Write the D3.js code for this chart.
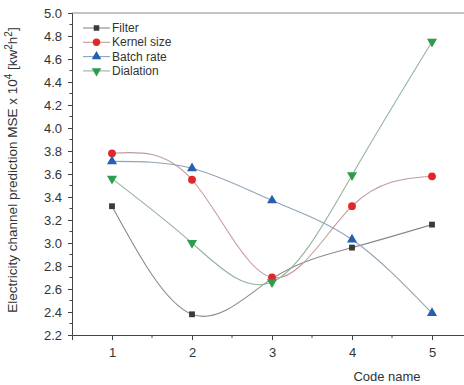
<!DOCTYPE html>
<html><head><meta charset="utf-8">
<script src="https://cdn.jsdelivr.net/npm/d3@7"></script>
<style>body{margin:0;background:#fff;}svg{display:block;}text{font-family:"Liberation Sans",Arial,sans-serif;fill:#333;}</style>
</head><body><svg id="c" width="464" height="385"></svg>
<script>
const codes = [1, 2, 3, 4, 5];
const filterVals = [3.32, 2.38, 2.69, 2.96, 3.16];
const kernelVals = [3.78, 3.55, 2.70, 3.32, 3.58];
const batchVals = [3.71, 3.65, 3.37, 3.03, 2.39];
const dialationVals = [3.56, 3.00, 2.66, 3.59, 4.75];
const seriesNames = ["Filter", "Kernel size", "Batch rate", "Dialation"];
const yTicks = [2.2, 2.4, 2.6, 2.8, 3.0, 3.2, 3.4, 3.6, 3.8, 4.0, 4.2, 4.4, 4.6, 4.8, 5.0];
const xTicks = [1, 2, 3, 4, 5];

const series = [
  {name: seriesNames[0], vals: filterVals, line: "#8a8a8a", fill: "#3a3a3a", sym: d3.symbolSquare},
  {name: seriesNames[1], vals: kernelVals, line: "#c49a9a", fill: "#e3262b", sym: d3.symbolCircle},
  {name: seriesNames[2], vals: batchVals, line: "#8fa3b8", fill: "#2361b0", sym: d3.symbolTriangle},
  {name: seriesNames[3], vals: dialationVals, line: "#93b39c", fill: "#2f9b4f", sym: "down"}
];

const svg = d3.select("#c");
const m = {l: 72, t: 13, r: 472, b: 335};
const x = d3.scaleLinear().domain([0.5, 5.5]).range([m.l, m.r]);
const y = d3.scaleLinear().domain([2.2, 5.0]).range([m.b, m.t]);

// top frame
svg.append("line").attr("x1", m.l).attr("x2", 464).attr("y1", m.t).attr("y2", m.t)
  .attr("stroke", "#888").attr("stroke-width", 1.2);

// y axis
const yMinor = d3.range(2.3, 5.0, 0.2).map(v => +v.toFixed(1));
const ya = svg.append("g").attr("transform", `translate(${m.l},0)`);
ya.call(d3.axisLeft(y).tickValues(yTicks).tickFormat(d3.format(".1f")).tickSize(4).tickPadding(6));
ya.selectAll(".tick line").attr("stroke", "#444");
ya.select(".domain").attr("stroke", "#444");
ya.selectAll("text").style("font-size", "13px").attr("fill", "#333");
ya.selectAll(".minor").data(yMinor).enter().append("line").attr("class", "minor")
  .attr("x1", -2.5).attr("x2", 0).attr("y1", d => y(d)).attr("y2", d => y(d)).attr("stroke", "#444");

// x axis
const xa = svg.append("g").attr("transform", `translate(0,${m.b})`);
xa.call(d3.axisBottom(x).tickValues(xTicks).tickFormat(d3.format("d")).tickSize(5).tickPadding(8));
xa.selectAll(".tick line").attr("stroke", "#444");
xa.select(".domain").attr("stroke", "#444");
xa.selectAll("text").style("font-size", "13px").attr("fill", "#333");
xa.selectAll(".minor").data([1.5, 2.5, 3.5, 4.5]).enter().append("line").attr("class", "minor")
  .attr("x1", d => x(d)).attr("x2", d => x(d)).attr("y1", 0).attr("y2", 3).attr("stroke", "#444");

svg.append("text").attr("x", 387).attr("y", 381).attr("text-anchor", "middle")
  .style("font-size", "13px").text("Code name");

// y title
const yt = svg.append("text").attr("transform", "translate(17,170) rotate(-90)")
  .attr("text-anchor", "middle").style("font-size", "13.5px");
yt.append("tspan").text("Electricity channel prediction MSE x 10");
yt.append("tspan").attr("dy", -5).style("font-size", "10px").text("4");
yt.append("tspan").attr("dy", 5).text(" [kw");
yt.append("tspan").attr("dy", -5).style("font-size", "10px").text("2");
yt.append("tspan").attr("dy", 5).text("h");
yt.append("tspan").attr("dy", -5).style("font-size", "10px").text("2");
yt.append("tspan").attr("dy", 5).text("]");

const line = d3.line().x((d, i) => x(codes[i])).y(d => y(d)).curve(d3.curveNatural);
function sym(s, size) {
  if (s.sym === "down") return d3.symbol().type(d3.symbolTriangle).size(size)();
  return d3.symbol().type(s.sym).size(size)();
}
const symSize = {0: 34, 1: 48, 2: 44, 3: 44};

series.forEach((s, k) => {
  svg.append("path").attr("d", line(s.vals)).attr("fill", "none")
    .attr("stroke", s.line).attr("stroke-width", 1.1);
});
series.forEach((s, k) => {
  svg.selectAll(null).data(s.vals).enter().append("path")
    .attr("d", sym(s, symSize[k]))
    .attr("transform", (d, i) => `translate(${x(codes[i])},${y(d)})` + (s.sym === "down" ? " rotate(180)" : ""))
    .attr("fill", s.fill);
});

// legend
const lg = svg.append("g");
series.forEach((s, k) => {
  const ly = 28 + k * 14.3;
  lg.append("line").attr("x1", 83).attr("x2", 110).attr("y1", ly).attr("y2", ly)
    .attr("stroke", s.line).attr("stroke-width", 1.1);
  lg.append("path").attr("d", sym(s, symSize[k] * 0.9))
    .attr("transform", `translate(96.5,${ly})` + (s.sym === "down" ? " rotate(180)" : ""))
    .attr("fill", s.fill);
  lg.append("text").attr("x", 112).attr("y", ly + 4).style("font-size", "12px").text(s.name);
});
</script></body></html>
